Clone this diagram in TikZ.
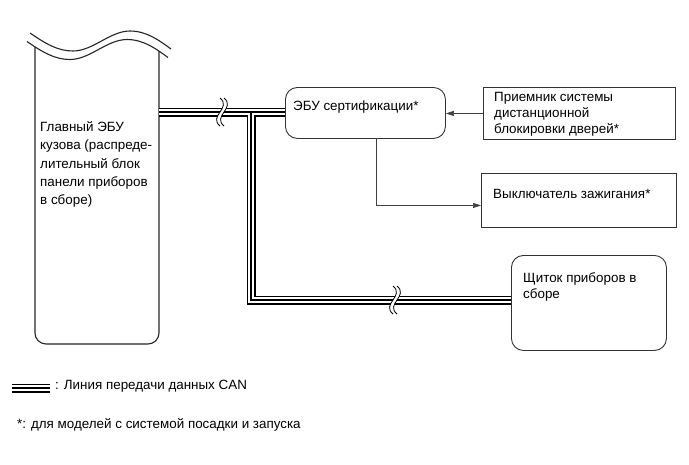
\documentclass[tikz,border=0pt]{standalone}
\usepackage{fontspec}
\setmainfont{Liberation Sans}
\usetikzlibrary{arrows.meta,calc}
\begin{document}
\begin{tikzpicture}[x=1pt,y=-1pt,
  font=\fontsize{13.4}{16}\selectfont,
  box/.style={draw=black!80,line width=0.9pt,inner sep=0pt,anchor=north west},
  rbox/.style={box,rounded corners=12pt},
  txt/.style={anchor=north west,align=left,inner sep=0pt},
  busA/.style={line width=9pt,draw=black},
  busB/.style={line width=5.6pt,draw=white},
  busC/.style={line width=1.6pt,draw=black},
  sig/.style={draw=black!75,line width=0.6pt,-{Triangle[length=8pt,width=5pt]}},
  wavy/.style={line width=1.1pt,draw=black!85},
  brk/.pic={
    \fill[white] (0,-14) .. controls (12,-4) and (-12,4) .. (0,14) -- (4,14) .. controls (-8,4) and (16,-4) .. (4,-14) -- cycle;
    \draw[line width=0.8pt] (0,-14) .. controls (12,-4) and (-12,4) .. (0,14);
    \draw[line width=0.8pt] (4,-14) .. controls (16,-4) and (-8,4) .. (4,14);
  }]
\useasboundingbox (0,0) rectangle (689,464);

% main body ECU (cut at the top)
\draw[wavy] (30,33) .. controls (46,44) and (58,51) .. (73,51) .. controls (93,51) and (110,31) .. (130,31) .. controls (147,31) and (160,41) .. (171,49);
\draw[wavy] (27,41.5) .. controls (43,52.5) and (55,59.5) .. (70,59.5) .. controls (90,59.5) and (107,39.5) .. (127,39.5) .. controls (144,39.5) and (157,49.5) .. (168,57.5);
\draw[line width=1.1pt,draw=black!85,rounded corners=11pt] (35,46.8) -- (35,344) -- (159,344) -- (159,51.1);
\coordinate (ecuR) at (159,112);
\node[txt,font=\fontsize{13.4}{18.2}\selectfont] (ecutext) at (40,121.5) {Главный ЭБУ\\кузова (распреде-\\лительный блок\\панели приборов\\в сборе)};

% certification ECU
\node[rbox,minimum width=160pt,minimum height=51pt] (cert) at (285,87) {};
\node[txt] (certtext) at (293,101) {ЭБУ сертификации*};

% door lock receiver
\node[box,minimum width=192pt,minimum height=52pt] (recv) at (483,87) {};
\node[txt] (recvtext) at (494,92) {Приемник системы\\дистанционной\\блокировки дверей*};

% ignition switch
\node[box,minimum width=195pt,minimum height=54pt] (ign) at (481,173) {};
\node[txt] (igntext) at (493,189) {Выключатель зажигания*};

% combination meter
\node[rbox,minimum width=155pt,minimum height=95pt] (clus) at (511,255) {};
\node[txt] (clustext) at (523,272.5) {Щиток приборов в\\сборе};

% CAN bus
\coordinate (junc) at (251,112);
\coordinate (clusIn) at (clus.west |- 0,300);
\foreach \s in {busA,busB,busC}{
  \draw[style=\s] (ecuR) -- (cert.west |- ecuR);
  \draw[style=\s,line join=miter] (junc) -- (junc |- clusIn) -- (clusIn);
}
\pic at (220,112) {brk};
\pic at (393,300) {brk};

% signal lines
\draw[sig] (recv.west) -- (cert.east |- recv.west);
\coordinate (certB) at (376,138);
\draw[sig] (certB) |- ($(ign.west)+(0,5)$);

% legend
\coordinate (lg1) at (12,388);
\coordinate (lg2) at (50,388);
\foreach \s in {busA,busB,busC}{
  \draw[style=\s] (lg1) -- (lg2);
}
\node[anchor=west,inner sep=0pt] (lgtext) at (55,386) {: Линия передачи данных CAN};
\node[anchor=west,inner sep=0pt] (note) at (17,425) {*: для моделей с системой посадки и запуска};
\end{tikzpicture}
\end{document}
